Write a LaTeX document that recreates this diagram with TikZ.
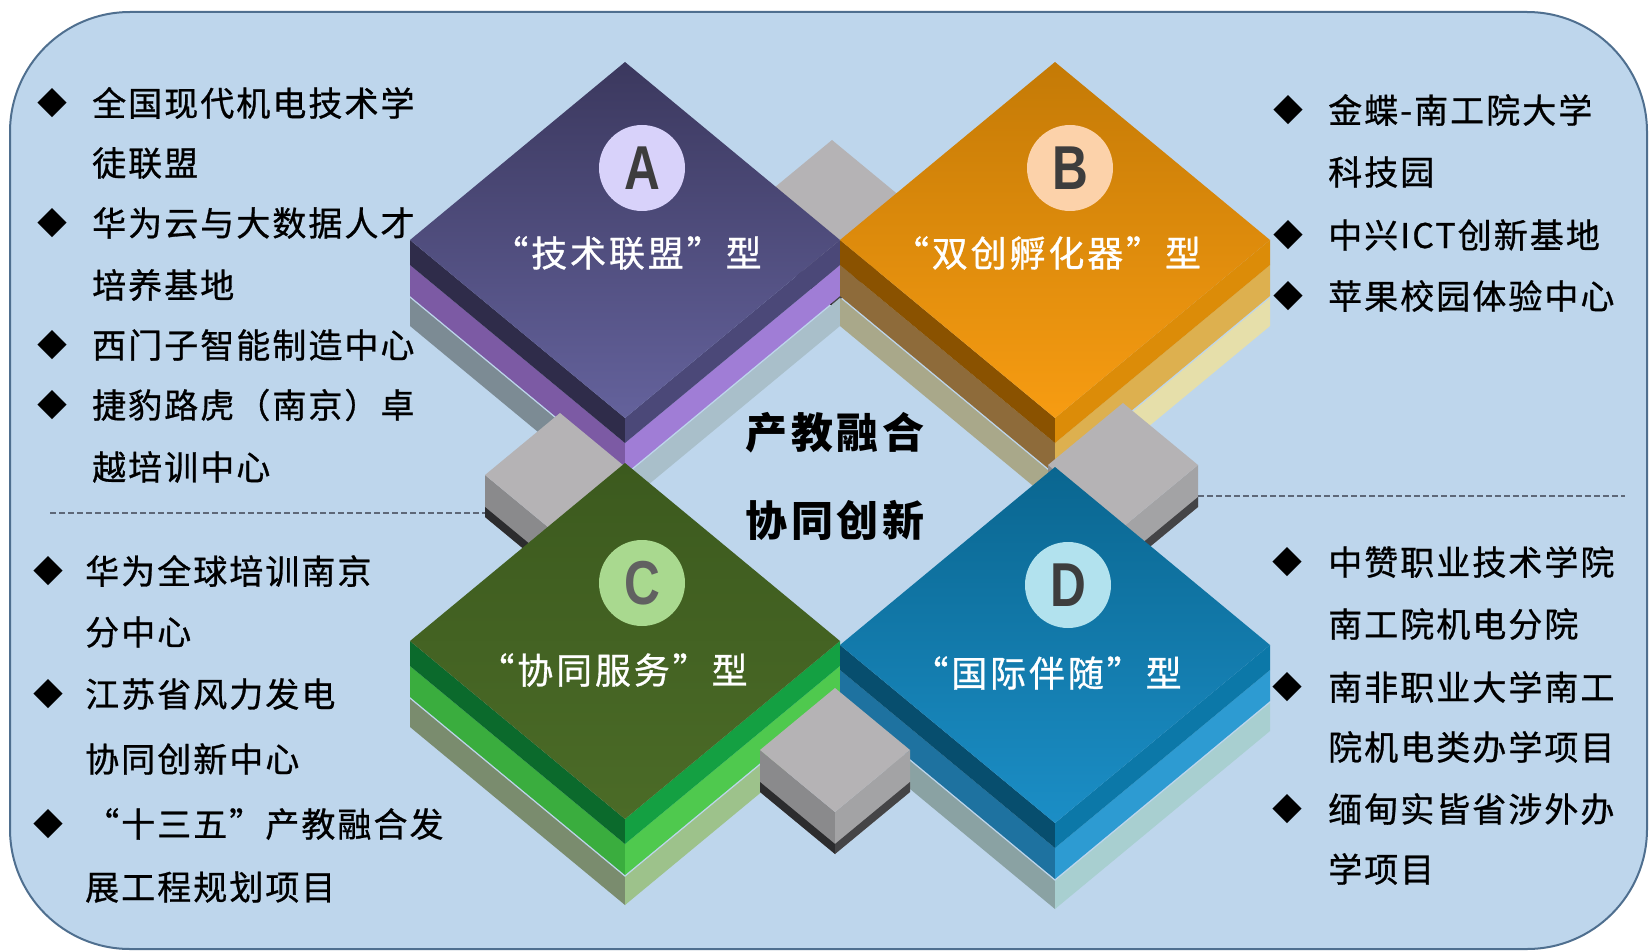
\documentclass[tikz,border=0pt]{standalone}
\usepackage{fontspec}
\usepackage{graphicx}
\newfontfamily\cjk{Noto Sans CJK SC}
\newfontfamily\cjklist[LetterSpace=6,FakeBold=0.8]{Noto Sans CJK SC}
\newfontfamily\cjktile[LetterSpace=8,FakeBold=0.8]{Noto Sans CJK SC}
\newfontfamily\cjkcen[LetterSpace=8]{Noto Sans CJK SC}
\newfontfamily\latf{Liberation Sans}
\usetikzlibrary{calc}

\definecolor{bgblue}{HTML}{BED6EC}
\definecolor{bgline}{HTML}{4F6F8F}
\definecolor{dashc}{HTML}{5E6878}
\definecolor{Atop1}{HTML}{3B385E}\definecolor{Atop2}{HTML}{64629C}
\definecolor{A1L}{HTML}{2F2C4A}\definecolor{A1R}{HTML}{4B4878}
\definecolor{A2L}{HTML}{7C5AA4}\definecolor{A2R}{HTML}{A07DD6}
\definecolor{A3L}{HTML}{7C8B94}\definecolor{A3R}{HTML}{A9BFCA}
\definecolor{Btop1}{HTML}{C47A06}\definecolor{Btop2}{HTML}{F79C12}
\definecolor{B1L}{HTML}{8A5200}\definecolor{B1R}{HTML}{DC8C08}
\definecolor{B2L}{HTML}{8E6B3A}\definecolor{B2R}{HTML}{DDB04F}
\definecolor{B3L}{HTML}{A9A88A}\definecolor{B3R}{HTML}{E6DFAA}
\definecolor{Ctop1}{HTML}{3C5A1E}\definecolor{Ctop2}{HTML}{4B6B27}
\definecolor{C1L}{HTML}{0B6A2C}\definecolor{C1R}{HTML}{14A042}
\definecolor{C2L}{HTML}{3AAD3E}\definecolor{C2R}{HTML}{4FC94E}
\definecolor{C3L}{HTML}{7A8C6E}\definecolor{C3R}{HTML}{9DC28B}
\definecolor{Dtop1}{HTML}{0A6690}\definecolor{Dtop2}{HTML}{1B8EC6}
\definecolor{D1L}{HTML}{074E6E}\definecolor{D1R}{HTML}{0C78A8}
\definecolor{D2L}{HTML}{1E72A0}\definecolor{D2R}{HTML}{2D9BD2}
\definecolor{D3L}{HTML}{8AA2A3}\definecolor{D3R}{HTML}{A8CFD0}
\definecolor{cA}{HTML}{D8D2FA}\definecolor{cB}{HTML}{FCD2AA}
\definecolor{cC}{HTML}{A9D98F}\definecolor{cD}{HTML}{B2E2EE}
\definecolor{gtop}{HTML}{B5B3B5}\definecolor{gleft}{HTML}{8A8A8C}
\definecolor{gright}{HTML}{A3A3A5}\definecolor{gdark}{HTML}{2C2C2E}
\definecolor{lettc}{HTML}{3D3D3D}

\newcommand\tlayer[6]{%
  \fill[#5] ({#1-215},{#2+#3}) -- ({#1},{#2+178+#3}) -- ({#1},{#2+178+#4}) -- ({#1-215},{#2+#4}) -- cycle;
  \fill[#6] ({#1},{#2+178+#3}) -- ({#1+215},{#2+#3}) -- ({#1+215},{#2+#4}) -- ({#1},{#2+178+#4}) -- cycle;
}
\newcommand\ttop[4]{%
  \shade[top color=#3, bottom color=#4] ({#1},{#2-178}) -- ({#1+215},{#2}) -- ({#1},{#2+178}) -- ({#1-215},{#2}) -- cycle;
}
\newcommand\gblock[2]{%
  \fill[gleft] ({#1-75},{#2}) -- ({#1},{#2+62}) -- ({#1},{#2+104}) -- ({#1-75},{#2+42}) -- cycle;
  \fill[gdark] ({#1-75},{#2+32}) -- ({#1},{#2+94}) -- ({#1},{#2+104}) -- ({#1-75},{#2+42}) -- cycle;
  \fill[gright] ({#1},{#2+62}) -- ({#1+75},{#2}) -- ({#1+75},{#2+42}) -- ({#1},{#2+104}) -- cycle;
  \fill[gdark!80!gright] ({#1},{#2+94}) -- ({#1+75},{#2+32}) -- ({#1+75},{#2+42}) -- ({#1},{#2+104}) -- cycle;
  \fill[gtop] ({#1},{#2-62}) -- ({#1+75},{#2}) -- ({#1},{#2+62}) -- ({#1-75},{#2}) -- cycle;
}

\tikzset{
  listtext/.style={anchor=west, inner sep=0pt, text=black, font=\cjklist\fontsize{34}{40}\selectfont},
  bullet/.style={inner sep=0pt, text=black, font=\cjk\fontsize{30}{30}\selectfont},
  tilelabel/.style={inner sep=0pt, text=white, font=\cjktile\fontsize{36}{40}\selectfont},
  badge/.style={circle, inner sep=0pt, minimum size=86pt, text=lettc, font=\latf\bfseries\fontsize{62}{62}\selectfont},
  centertext/.style={inner sep=0pt, text=black, font=\cjkcen\bfseries\fontsize{42}{46}\selectfont},
  sep/.style={dashc, line width=1.3pt, dash pattern=on 6pt off 3pt}
}

\begin{document}
\begin{tikzpicture}[x=1pt,y=-1pt]
\useasboundingbox (0,0) rectangle (1650,952);
\fill[white] (0,0) rectangle (1650,952);
\draw[bgline, line width=2pt, fill=bgblue, rounded corners=120pt] (10,12) rectangle (1647,949);

% back gray block
\gblock{832}{202}

% lower layers
\tlayer{625}{240}{58}{86}{A3L}{A3R}
\tlayer{625}{240}{25}{56}{A2L}{A2R}
\tlayer{1055}{240}{58}{86}{B3L}{B3R}
\tlayer{1055}{240}{25}{56}{B2L}{B2R}
\tlayer{625}{641}{58}{86}{C3L}{C3R}
\tlayer{625}{641}{25}{56}{C2L}{C2R}
\tlayer{1055}{645}{58}{86}{D3L}{D3R}
\tlayer{1055}{645}{25}{56}{D2L}{D2R}

% front gray blocks
\gblock{560}{475}
\gblock{1123}{465}
\gblock{835}{750}

% tile A
\tlayer{625}{240}{0}{25}{A1L}{A1R}
\ttop{625}{240}{Atop1}{Atop2}
\node[badge, fill=cA] (bA) at (642,168) {\scalebox{0.8}[1]{A}};
\node[tilelabel] (tA) at (627,253) {“技术联盟”型};
% tile B
\tlayer{1055}{240}{0}{25}{B1L}{B1R}
\ttop{1055}{240}{Btop1}{Btop2}
\node[badge, fill=cB] (bB) at (1070,168) {\scalebox{0.8}[1]{B}};
\node[tilelabel] (tB) at (1047,253) {“双创孵化器”型};
% tile C
\tlayer{625}{641}{0}{25}{C1L}{C1R}
\ttop{625}{641}{Ctop1}{Ctop2}
\node[badge, fill=cC, text=black!62] (bC) at (642,583) {\scalebox{0.8}[1]{C}};
\node[tilelabel] (tC) at (613,670) {“协同服务”型};
% tile D
\tlayer{1055}{645}{0}{25}{D1L}{D1R}
\ttop{1055}{645}{Dtop1}{Dtop2}
\node[badge, fill=cD] (bD) at (1068,585) {\scalebox{0.8}[1]{D}};
\node[tilelabel] (tD) at (1047,673) {“国际伴随”型};

% center text
\node[centertext] (m1) at (835,433) {产教融合};
\node[centertext] (m2) at (835,520) {协同创新};

% separators
\coordinate (sl0) at (50,513);
\coordinate (sl1) at (485,513);
\coordinate (sr0) at (1198,496);
\coordinate (sr1) at (1625,496);
\draw[sep] (sl0) -- (sl1);
\draw[sep] (sr0) -- (sr1);

% left top list
\node[bullet] (pa1) at (52,103) {◆};
\node[listtext] (a1) at (92,103) {全国现代机电技术学};
\node[listtext] (a1b) at (92,163) {徒联盟};
\node[bullet] (pa2) at (52,223) {◆};
\node[listtext] (a2) at (92,223) {华为云与大数据人才};
\node[listtext] (a2b) at (92,285) {培养基地};
\node[bullet] (pa3) at (52,345) {◆};
\node[listtext] (a3) at (92,345) {西门子智能制造中心};
\node[bullet] (pa4) at (52,405) {◆};
\node[listtext] (a4) at (92,405) {捷豹路虎（南京）卓};
\node[listtext] (a4b) at (92,467) {越培训中心};

% right top list
\node[bullet] (pb1) at (1288,110) {◆};
\node[listtext] (b1) at (1328,110) {金蝶-南工院大学};
\node[listtext] (b1b) at (1328,172) {科技园};
\node[bullet] (pb2) at (1288,235) {◆};
\node[listtext] (b2) at (1328,235) {中兴ICT创新基地};
\node[bullet] (pb3) at (1288,296) {◆};
\node[listtext] (b3) at (1328,296) {苹果校园体验中心};

% left bottom list
\node[bullet] (pc1) at (48,571) {◆};
\node[listtext] (c1) at (85,571) {华为全球培训南京};
\node[listtext] (c1b) at (85,632) {分中心};
\node[bullet] (pc2) at (48,694) {◆};
\node[listtext] (c2) at (85,694) {江苏省风力发电};
\node[listtext] (c2b) at (85,759) {协同创新中心};
\node[bullet] (pc3) at (48,824) {◆};
\node[listtext] (c3) at (85,824) {“十三五”产教融合发};
\node[listtext] (c3b) at (85,887) {展工程规划项目};

% right bottom list
\node[bullet] (pd1) at (1287,562) {◆};
\node[listtext] (d1) at (1328,562) {中赞职业技术学院};
\node[listtext] (d1b) at (1328,624) {南工院机电分院};
\node[bullet] (pd2) at (1287,687) {◆};
\node[listtext] (d2) at (1328,687) {南非职业大学南工};
\node[listtext] (d2b) at (1328,747) {院机电类办学项目};
\node[bullet] (pd3) at (1287,809) {◆};
\node[listtext] (d3) at (1328,809) {缅甸实皆省涉外办};
\node[listtext] (d3b) at (1328,869) {学项目};
\end{tikzpicture}
\end{document}
